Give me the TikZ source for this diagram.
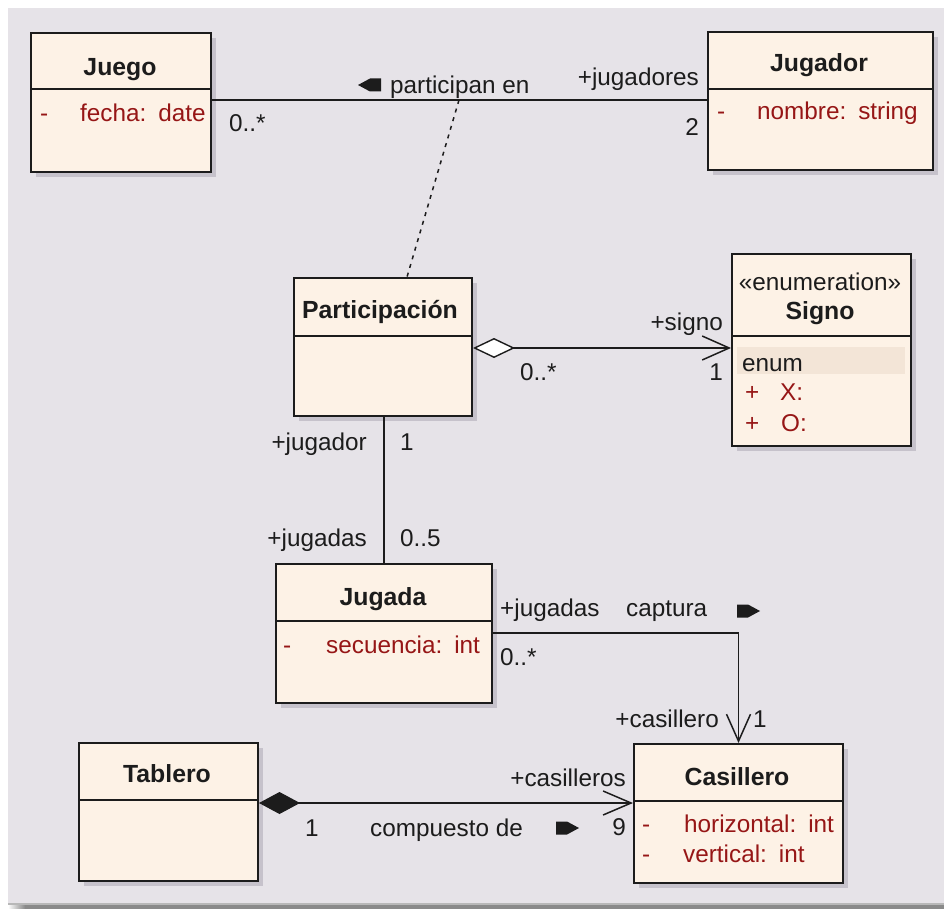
\documentclass[tikz,border=0pt]{standalone}
\usepackage{fontspec}
\setmainfont{Liberation Sans}
\usetikzlibrary{arrows.meta,shadows}

\definecolor{bgc}{RGB}{230,227,232}
\definecolor{boxfill}{RGB}{253,242,230}
\definecolor{shadowc}{RGB}{198,194,203}
\definecolor{linec}{RGB}{28,28,28}
\definecolor{attrc}{RGB}{150,22,22}
\definecolor{enumc}{RGB}{243,229,215}
\definecolor{barc}{RGB}{138,138,138}

% gap between an attribute name and its type
\newcommand\attrgap{\hspace{12pt}}

\tikzset{
  classbox/.style={draw=linec, line width=2pt, fill=boxfill, anchor=north west,
    inner sep=0pt, drop shadow={shadow xshift=5pt, shadow yshift=-5pt, fill=shadowc, opacity=1}},
  sepline/.style={draw=linec, line width=2pt},
  lbl/.style={inner sep=0pt, text=linec, text height=17pt, text depth=0pt},
  title/.style={lbl, font=\fontsize{24.8}{28}\selectfont\bfseries},
  attr/.style={lbl, text=attrc},
  conn/.style={draw=linec, line width=1.9pt},
  nav/.style={-{Straight Barb[length=27pt, width=24pt, line width=1.5pt]}},
  dirmark/.style={fill=linec},
}

\begin{document}
\begin{tikzpicture}[x=1pt, y=-1pt, font=\fontsize{24.3}{28}\selectfont]
\useasboundingbox (0,0) rectangle (944,909);
% canvas
\fill[white] (0,0) rectangle (944,909);
\fill[bgc] (8,8) rectangle (944,904);
\fill[barc] (25,904) rectangle (944,909);
\shade[left color=white, right color=barc] (8,904) rectangle (25,909);
\fill[black!28] (8,903) rectangle (944,904.5);

% classes
\node[classbox, minimum width=180pt, minimum height=139pt] (juego) at (30,32) {};
\draw[sepline] (juego.west |- 0,89) -- (juego.east |- 0,89);
\node[classbox, minimum width=225pt, minimum height=138pt] (jugador) at (707,31) {};
\draw[sepline] (jugador.west |- 0,89) -- (jugador.east |- 0,89);
\node[classbox, minimum width=178pt, minimum height=138pt] (part) at (293,277) {};
\draw[sepline] (part.west |- 0,336) -- (part.east |- 0,336);
\node[classbox, minimum width=179pt, minimum height=192pt] (signo) at (731,253) {};
\draw[sepline] (signo.west |- 0,336) -- (signo.east |- 0,336);
\fill[enumc] (737,347) rectangle (905,374);
\node[classbox, minimum width=216pt, minimum height=139pt] (jugada) at (275,563) {};
\draw[sepline] (jugada.west |- 0,621) -- (jugada.east |- 0,621);
\node[classbox, minimum width=179pt, minimum height=138pt] (tablero) at (78,742) {};
\draw[sepline] (tablero.west |- 0,800) -- (tablero.east |- 0,800);
\node[classbox, minimum width=209pt, minimum height=139pt] (casillero) at (633,743) {};
\draw[sepline] (casillero.west |- 0,801) -- (casillero.east |- 0,801);

% class names
\node[title] (tJuego) at (120,67) {Juego};
\node[title] (tJugador) at (819,63) {Jugador};
\node[title] (tPart) at (380,310) {Participación};
\node[lbl] (tStereo) at (820,282) {«enumeration»};
\node[title] (tSigno) at (820,311) {Signo};
\node[title] (tJugada) at (383,597) {Jugada};
\node[title] (tTablero) at (167,774) {Tablero};
\node[title] (tCasillero) at (737,777) {Casillero};

% attributes
\node[attr, anchor=west] (aJv) at (40,113) {-};
\node[attr, anchor=west] (aJuego) at (80,113) {fecha:\attrgap date};
\node[attr, anchor=west] (aNv) at (717,111) {-};
\node[attr, anchor=west] (aJugador) at (757,111) {nombre:\attrgap string};
\node[attr, anchor=west] (aSv) at (283,645) {-};
\node[attr, anchor=west] (aJugada) at (326,645) {secuencia:\attrgap int};
\node[attr, anchor=west] (aHv) at (642,824) {-};
\node[attr, anchor=west] (aH) at (684,824) {horizontal:\attrgap int};
\node[attr, anchor=west] (aVv) at (642,854) {-};
\node[attr, anchor=west] (aV) at (683,854) {vertical:\attrgap int};
\node[lbl, anchor=west] (lEnum) at (742,363) {enum};
\node[attr, anchor=west] (aXv) at (745,392) {+};
\node[attr, anchor=west] (aX) at (780,392) {X:};
\node[attr, anchor=west] (aOv) at (745,423) {+};
\node[attr, anchor=west] (aO) at (781,423) {O:};

% associations
\draw[conn] (juego.east |- 0,100) -- (jugador.west |- 0,100);
\coordinate (assocMid) at (459,100);
\draw[draw=linec, line width=1.5pt, dash pattern=on 4pt off 5pt] (assocMid) -- ([xshift=114pt]part.north west);
\draw[conn, {Diamond[length=42pt, width=20pt, fill=white, line width=1.4pt]}-{Straight Barb[length=27pt, width=24pt, line width=1.5pt]}]
  (part.east |- 0,348) -- (signo.west |- 0,348);
\draw[conn] (part.south -| 384,0) -- (jugada.north -| 384,0);
\draw[conn, nav] (jugada.east |- 0,633) -| (casillero.north);
\draw[conn, {Diamond[length=41pt, width=22pt, line width=1pt]}-{Straight Barb[length=28pt, width=24pt, line width=1.5pt]}]
  (tablero.east |- 0,803) -- (casillero.west |- 0,803);

% association labels
\node[lbl, anchor=west] (m1) at (229,123) {0..*};
\node[lbl, anchor=east] (r1) at (699,77) {+jugadores};
\node[lbl, anchor=east] (m2) at (699,127) {2};
\node[lbl, anchor=west] (n1) at (390,85) {participan en};
\fill[dirmark] (381,78.5) -- (370,78.5) -- (358,85) -- (370,91.5) -- (381,91.5) -- cycle;

\node[lbl, anchor=east] (r2) at (723,322) {+signo};
\node[lbl, anchor=east] (m3) at (723,372) {1};
\node[lbl, anchor=west] (m4) at (520,372) {0..*};

\node[lbl, anchor=east] (r3) at (367,442) {+jugador};
\node[lbl, anchor=west] (m5) at (400,442) {1};
\node[lbl, anchor=east] (r4) at (367,538) {+jugadas};
\node[lbl, anchor=west] (m6) at (400,538) {0..5};

\node[lbl, anchor=west] (r5) at (500,608) {+jugadas};
\node[lbl, anchor=west] (n2) at (626,608) {captura};
\fill[dirmark] (737,604.5) -- (748,604.5) -- (760,611) -- (748,617.5) -- (737,617.5) -- cycle;
\node[lbl, anchor=west] (m7) at (500,657) {0..*};
\node[lbl, anchor=east] (r6) at (719,719) {+casillero};
\node[lbl, anchor=west] (m8) at (753,719) {1};

\node[lbl, anchor=east] (r7) at (626,778) {+casilleros};
\node[lbl, anchor=east] (m9) at (626,827) {9};
\node[lbl, anchor=west] (m10) at (305,828) {1};
\node[lbl, anchor=west] (n3) at (370,828) {compuesto de};
\fill[dirmark] (556,821.5) -- (567,821.5) -- (579,828) -- (567,834.5) -- (556,834.5) -- cycle;
\end{tikzpicture}
\end{document}
